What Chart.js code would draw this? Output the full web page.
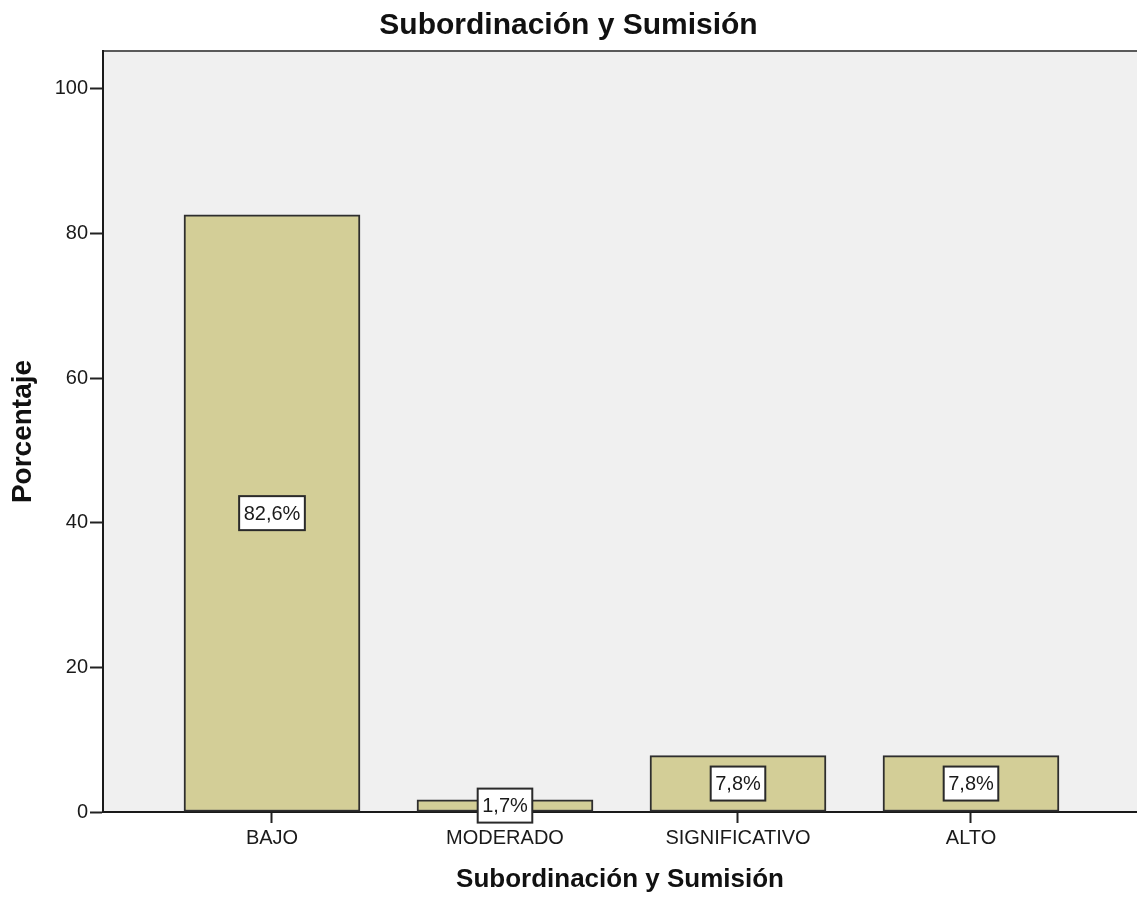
<!DOCTYPE html>
<html lang="es">
<head>
<meta charset="utf-8">
<title>Subordinación y Sumisión</title>
<script src="https://cdn.jsdelivr.net/npm/chart.js@4.4.1/dist/chart.umd.min.js"></script>
<style>
    html, body { margin: 0; padding: 0; background: #ffffff; }
    #wrap { width: 1137px; height: 897px; }
</style>
</head>
<body>
<div id="wrap"><canvas id="grafico" width="1137" height="897"></canvas></div>
<script>
// Datos del gráfico
const categorias = ['BAJO', 'MODERADO', 'SIGNIFICATIVO', 'ALTO'];
const porcentajes = [82.6, 1.7, 7.8, 7.8];
const etiquetas = ['82,6%', '1,7%', '7,8%', '7,8%'];
const ticksY = [0, 20, 40, 60, 80, 100];

const fuente = "'Liberation Sans', Arial, sans-serif";

// Fondo gris del área de trazado y línea superior
const fondoPlugin = {
    id: 'fondo',
    beforeDraw(chart) {
        const { ctx, chartArea: a } = chart;
        ctx.save();
        ctx.fillStyle = '#f0f0f0';
        ctx.fillRect(a.left, a.top, a.right - a.left, a.bottom - a.top);
        ctx.strokeStyle = '#5a5a5a';
        ctx.lineWidth = 2;
        ctx.beginPath();
        ctx.moveTo(a.left, a.top);
        ctx.lineTo(a.right, a.top);
        ctx.stroke();
        ctx.restore();
    }
};

// Etiquetas con recuadro blanco en la mitad de cada barra
const etiquetasPlugin = {
    id: 'etiquetas',
    afterDatasetsDraw(chart) {
        const { ctx } = chart;
        const meta = chart.getDatasetMeta(0);
        ctx.save();
        ctx.font = '20px ' + fuente;
        ctx.textAlign = 'center';
        ctx.textBaseline = 'middle';
        meta.data.forEach((bar, i) => {
            const p = bar.getProps(['x', 'y', 'base'], true);
            const cy = (p.y + p.base) / 2;
            const w = ctx.measureText(etiquetas[i]).width + 9;
            const h = 34;
            ctx.fillStyle = '#ffffff';
            ctx.fillRect(p.x - w / 2, cy - h / 2, w, h);
            ctx.strokeStyle = '#2a2a2a';
            ctx.lineWidth = 2;
            ctx.strokeRect(p.x - w / 2, cy - h / 2, w, h);
            ctx.fillStyle = '#1a1a1a';
            ctx.fillText(etiquetas[i], p.x, cy + 1);
        });
        ctx.restore();
    }
};

const grafico = new Chart(document.getElementById('grafico').getContext('2d'), {
    type: 'bar',
    data: {
        datasets: [{
            label: 'Porcentaje',
            data: porcentajes.map((v, i) => ({ x: i, y: v })),
            backgroundColor: '#d3ce97',
            borderColor: '#2e2e2e',
            borderWidth: 2,
            borderSkipped: false,
            barThickness: 176
        }]
    },
    options: {
        responsive: false,
        animation: false,
        layout: { padding: 0 },
        plugins: {
            legend: { display: false },
            tooltip: { enabled: false },
            title: {
                display: true,
                text: 'Subordinación y Sumisión',
                color: '#111111',
                font: { family: fuente, size: 30, weight: 'bold' },
                padding: { top: 8, bottom: 7 }
            }
        },
        scales: {
            x: {
                type: 'linear',
                offset: false,
                min: -0.7253,
                max: 3.7125,
                afterFit(scale) { scale.height = 85; },
                afterBuildTicks(scale) {
                    scale.ticks = categorias.map((c, i) => ({ value: i }));
                },
                ticks: {
                    callback: (v) => categorias[v] || '',
                    color: '#1a1a1a',
                    font: { family: fuente, size: 20 },
                    padding: 3,
                    maxRotation: 0,
                    autoSkip: false
                },
                grid: {
                    display: true,
                    offset: false,
                    drawOnChartArea: false,
                    drawTicks: true,
                    tickLength: 11,
                    tickWidth: 2,
                    tickColor: '#222222'
                },
                border: { display: true, color: '#1a1a1a', width: 2 },
                title: {
                    display: true,
                    text: 'Subordinación y Sumisión',
                    color: '#111111',
                    font: { family: fuente, size: 26, weight: 'bold' },
                    padding: { top: 0, bottom: 2 }
                }
            },
            y: {
                min: 0,
                max: 105.25,
                afterFit(scale) { scale.width = 103; },
                afterBuildTicks(scale) {
                    scale.ticks = ticksY.map(v => ({ value: v }));
                },
                ticks: {
                    color: '#1a1a1a',
                    font: { family: fuente, size: 20 },
                    padding: 2
                },
                grid: {
                    display: true,
                    drawOnChartArea: false,
                    drawTicks: true,
                    tickLength: 13,
                    tickWidth: 2,
                    tickColor: '#222222'
                },
                border: { display: true, color: '#1a1a1a', width: 2 },
                title: {
                    display: true,
                    text: 'Porcentaje',
                    color: '#111111',
                    font: { family: fuente, size: 28, weight: 'bold' },
                    padding: { top: 6, bottom: 0 }
                }
            }
        }
    },
    plugins: [fondoPlugin, etiquetasPlugin]
});
</script>
</body>
</html>
